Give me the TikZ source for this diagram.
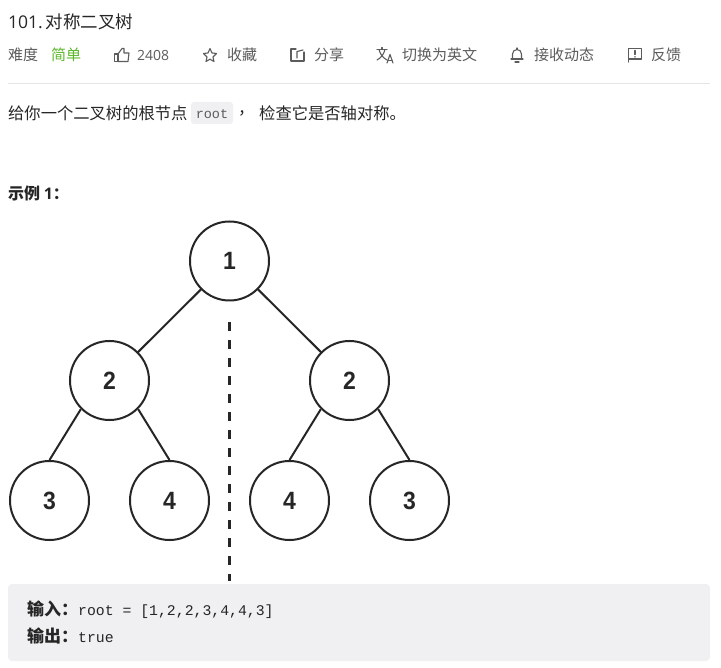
\documentclass[tikz,border=0pt]{standalone}
\usepackage{fontspec}
\setmainfont{Noto Sans CJK SC}
\newfontfamily\latinf{Open Sans}
\newfontfamily\monof{Liberation Mono}
\newfontfamily\treef[FakeStretch=0.92]{Liberation Sans}
\newcommand{\codelabfont}{\rmfamily\bfseries\fontsize{17}{18}\selectfont}
\definecolor{ink}{HTML}{262626}
\definecolor{meta}{HTML}{5C5C5C}
\definecolor{easy}{HTML}{5CB82A}
\definecolor{rulec}{HTML}{E6E6E6}
\definecolor{codebg}{HTML}{F0F0F2}
\tikzset{
  x=1pt,y=-1pt,
  tn/.style={circle,draw=ink,line width=2pt,minimum size=79pt,inner sep=0pt,fill=white,font=\treef\bfseries\fontsize{25}{25}\selectfont,text=ink},
  edge/.style={draw=ink,line width=2pt},
  txt/.style={anchor=west,inner sep=0pt,text=ink,font=\fontsize{16.3}{18}\selectfont},
  mt/.style={anchor=west,inner sep=0pt,text=meta,font=\fontsize{15}{17}\selectfont},
  ico/.style={draw=meta,line width=1.1pt,line join=round,line cap=round},
  codeln/.style={anchor=west,inner sep=0pt,text=ink,font=\monof\fontsize{14.8}{17}\selectfont},
}
\begin{document}
\begin{tikzpicture}
\useasboundingbox (0,0) rectangle (721,668);
\fill[white] (0,0) rectangle (721,668);
% header
\node[txt,font=\fontsize{17.5}{20}\selectfont] (title) at (8,22) {{\latinf 101.}\hspace{3pt}对称二叉树};
\node[mt] (diff) at (8,55) {难度};
\node[mt,text=easy] (easy) at (51,55) {简单};
\node[mt,font=\latinf\fontsize{14}{17}\selectfont] (likes) at (137,55) {2408};
\node[mt] (fav) at (227,55) {收藏};
\node[mt] (share) at (314,55) {分享};
\node[mt] (lang) at (402,55) {切换为英文};
\node[mt] (sub) at (534,55) {接收动态};
\node[mt] (fb) at (651,55) {反馈};
% icons
\draw[ico] (114.5,54) rectangle (118,61.5);
\draw[ico] (118,54) -- (122,48.5) -- (124,48.5) -- (124,53) -- (129,53) -- (128,61.5) -- (118,61.5);
\draw[ico] (210,48.5) -- (212,53) -- (216.5,53.5) -- (213,57) -- (214,61.5) -- (210,59.2) -- (206,61.5) -- (207,57) -- (203.5,53.5) -- (208,53) -- cycle;
\draw[ico] (296,49) -- (291,49) -- (291,61) -- (304,61) -- (304,52);
\draw[ico] (297,58) -- (297,51.5) -- (303,50);
% translate icon
\draw[ico] (377,49.5) -- (387,49.5);
\draw[ico] (382,47.5) -- (382,49.5);
\draw[ico] (379,49.5) .. controls (380,54) and (383,58) .. (387,60);
\draw[ico] (385,49.5) .. controls (384,54) and (381,58) .. (377,60);
\draw[ico] (387,63) -- (390,54.5) -- (393,63);
\draw[ico] (388,60.5) -- (392,60.5);
% bell
\draw[ico] (512.5,59) -- (512.5,54) arc[start angle=180,end angle=360,radius=4.5] -- (521.5,59);
\draw[ico] (511,59) -- (523,59);
\draw[ico] (515,62) -- (519,62);
\draw[ico] (517,48) -- (517,49.5);
% feedback
\draw[ico] (628.5,48.5) rectangle (641.5,59);
\draw[ico] (628.5,59) -- (628.5,62);
\draw[ico] (635,50.5) -- (635,54.5);
\draw[ico] (635,56.8) -- (635,57);
\draw[rulec,line width=1pt] (8,83.5) -- (710,83.5);
% intro
\node[txt] (intro) at (8,113.5) {给你一个二叉树的根节点};
\fill[codebg,rounded corners=3pt] (191,102) rectangle (233,124);
\node[anchor=center,inner sep=0pt,text=meta,font=\monof\fontsize{13.5}{15}\selectfont] (root) at (212,114.5) {root};
\node[txt] (comma) at (238,113.5) {，};
\node[txt] (intro2) at (259,113.5) {检查它是否轴对称。};
\node[txt,font=\bfseries\fontsize{16}{18}\selectfont] (ex) at (8,193) {示例 {\latinf 1}：};
% tree
\draw[edge] (229.5,261) coordinate (ca) -- (109.5,380.5) coordinate (cb);
\draw[edge] (ca) -- (349.5,380.5) coordinate (cc);
\node[tn] (a) at (ca) {1};
\node[tn] (b) at (cb) {2};
\node[tn] (c) at (cc) {2};
\node[tn] (d) at (49.5,500.5) {3};
\node[tn] (e) at (169.5,500.5) {4};
\node[tn] (f) at (289.5,500.5) {4};
\node[tn] (g) at (409.5,500.5) {3};
\draw[edge] (b.south west) -- (d.north);
\draw[edge] (b.south east) -- (e.north);
\draw[edge] (c.south west) -- (f.north);
\draw[edge] (c.south east) -- (g.north);
\coordinate (axt) at (229.5,322);
\coordinate (axb) at (229.5,581);
\draw[draw=ink,line width=3pt,dash pattern=on 9pt off 9pt] (axt) -- (axb);
% example box
\fill[codebg,rounded corners=4pt] (8,584) rectangle (710,661);
\node[codeln] (in) at (27,610) {{\codelabfont 输入：}root = [1,2,2,3,4,4,3]};
\node[codeln] (out) at (27,636) {{\codelabfont 输出：}true};
\end{tikzpicture}
\end{document}
